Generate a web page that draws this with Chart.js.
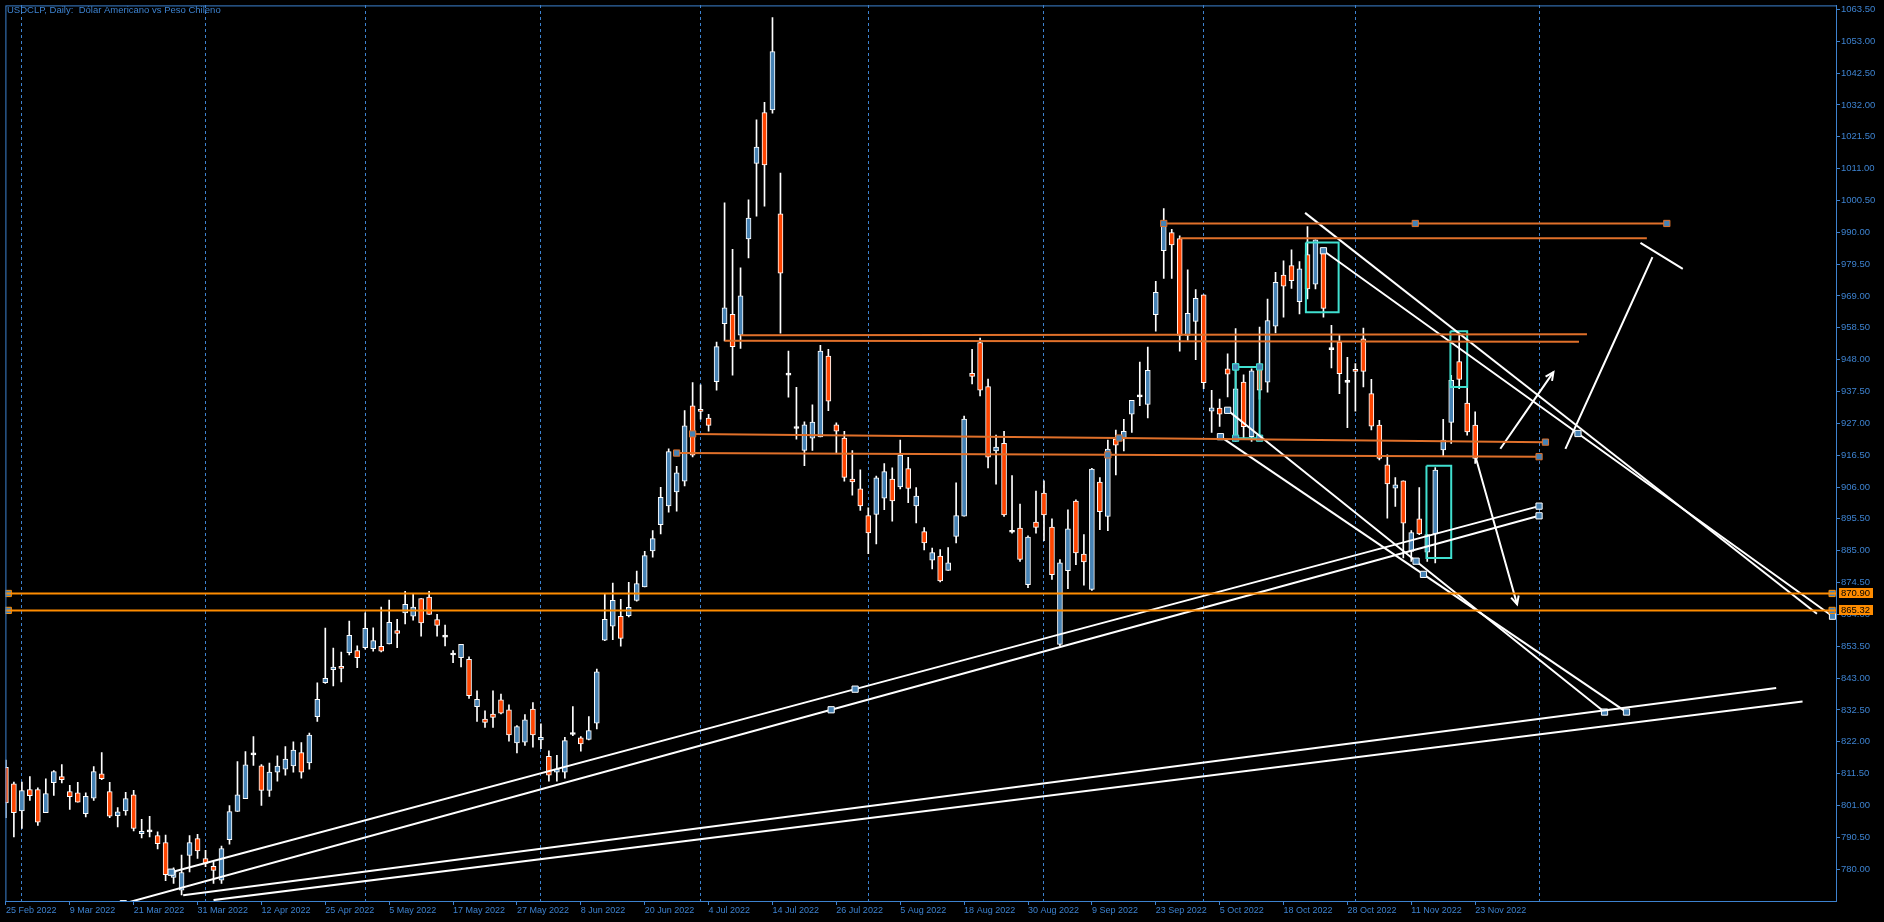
<!DOCTYPE html>
<html>
<head>
<meta charset="utf-8">
<script src="https://cdn.jsdelivr.net/npm/chart.js@4.4.1/dist/chart.umd.min.js"></script>
<style>
  html, body { margin: 0; padding: 0; background: #000; }
  canvas { display: block; }
</style>
</head>
<body>
<canvas id="chart" width="1884" height="922"></canvas>
<script>
// USDCLP daily candles (bar index = trading day from 25 Feb 2022)
const open = [813.6,808.1,799.2,806.2,806.2,798.6,808.5,810.5,805.6,805.2,798.3,803.4,811.4,805.6,797.6,799.2,804.5,791.7,792.3,791.1,
  788.8,777.3,773.1,784.5,790.1,783.5,780.9,776.4,789.7,799.0,803.2,817.7,814.1,806.0,812.0,813.0,814.0,818.4,815.0,830.3,
  841.5,845.8,846.9,851.4,852.1,853.0,852.7,853.5,854.3,858.7,864.5,863.4,869.2,869.7,862.3,856.5,850.6,849.7,849.2,833.6,
  829.5,831.1,835.8,832.5,821.6,821.9,832.8,822.6,817.2,812.0,812.0,824.4,823.3,822.8,828.1,855.5,860.1,863.4,863.6,868.6,
  873.1,884.9,893.6,899.8,904.4,907.9,932.8,931.6,928.7,940.7,959.9,962.9,956.1,987.8,1012.7,1029.5,1030.3,996.1,942.9,925.3,
  918.1,922.1,922.5,949.2,926.5,922.1,908.6,905.4,896.6,897.0,902.3,908.6,906.0,912.1,899.8,891.3,881.9,883.2,878.5,889.7,
  896.4,943.5,953.6,939.1,917.9,920.4,891.1,892.5,873.8,894.4,904.0,892.8,854.1,878.4,901.4,883.9,872.2,907.6,896.3,921.8,
  922.0,930.0,935.7,933.2,962.8,983.9,989.9,987.9,956.0,960.6,969.4,931.0,932.0,945.0,922.6,940.6,922.6,945.6,940.6,959.0,
  975.9,979.0,967.1,982.6,972.9,983.3,951.3,953.8,940.5,944.8,954.9,936.8,926.4,913.3,905.6,908.0,884.8,895.5,884.5,890.5,
  918.2,927.3,947.4,933.7,926.4];
const high = [816.0,808.7,808.7,810.5,806.8,809.8,812.5,814.5,807.6,808.6,805.2,813.8,818.4,808.6,800.3,805.3,806.0,796.4,797.4,792.3,
  791.2,780.4,784.6,791.1,791.5,786.2,782.4,787.6,801.0,815.5,818.8,823.7,814.5,815.0,817.4,820.4,822.0,821.7,824.9,841.4,
  859.5,852.9,851.6,861.8,853.6,864.5,859.6,866.4,868.7,862.4,871.6,870.8,869.2,871.6,864.0,860.5,852.1,854.1,850.0,838.8,
  832.2,838.8,837.7,834.2,827.3,831.0,834.9,827.9,819.0,817.5,823.5,833.6,823.7,830.3,846.0,870.6,874.3,869.0,874.6,878.3,
  884.8,891.6,905.9,918.6,912.8,931.2,940.4,939.7,930.0,953.8,999.7,984.4,978.3,1000.7,1027.1,1032.8,1060.8,1009.5,950.8,938.9,
  927.5,933.1,952.7,951.4,927.2,924.4,918.0,911.7,899.1,909.6,913.7,912.3,921.5,915.8,905.8,892.6,885.9,885.4,886.0,907.4,
  929.4,951.4,955.1,941.6,923.1,924.4,909.8,900.4,889.9,904.7,908.0,895.5,882.1,898.5,901.8,890.3,912.2,909.1,921.5,924.8,
  928.3,934.6,947.2,952.1,973.8,997.8,991.0,988.8,977.6,971.1,969.4,937.9,935.0,949.9,958.2,943.0,945.0,958.7,968.0,976.8,
  980.6,984.2,980.3,991.9,987.5,984.6,959.3,956.2,948.8,946.7,958.4,941.5,928.0,916.6,909.1,908.0,891.6,905.8,890.3,912.4,
  928.3,942.8,956.5,938.7,930.8];
const low = [797.0,790.6,793.4,802.7,794.4,798.6,804.3,808.4,799.7,802.1,797.2,802.7,809.5,797.0,793.9,797.8,792.6,790.3,790.6,786.7,
  776.2,775.3,771.5,779.1,783.5,780.8,775.3,775.3,788.2,799.0,803.2,814.2,801.0,804.0,809.0,811.0,812.0,810.0,813.0,828.7,
  841.2,840.4,841.7,850.6,846.4,852.5,851.9,851.6,854.3,853.0,860.9,862.1,856.8,864.0,856.8,853.6,848.1,846.7,836.3,828.7,
  826.7,826.7,831.2,822.2,818.3,820.8,820.2,819.7,809.0,809.0,810.0,824.0,818.9,822.6,826.2,855.3,855.7,853.5,863.2,868.4,
  873.1,882.9,890.5,897.7,898.0,906.4,915.9,928.4,924.4,937.9,954.2,942.9,951.7,981.5,995.3,998.6,1029.3,956.7,935.6,921.8,
  913.0,918.1,922.5,931.2,917.1,907.9,903.3,898.3,884.0,887.2,898.5,894.7,905.4,900.8,894.2,885.3,879.0,874.7,878.5,887.6,
  896.4,940.0,936.0,912.3,906.9,896.3,890.8,881.5,872.8,890.8,888.3,875.5,853.6,872.5,880.4,873.6,871.9,891.9,891.6,910.0,
  917.9,924.0,932.8,928.8,957.4,974.8,974.8,950.8,954.3,948.0,938.4,924.0,926.0,935.7,921.0,922.0,921.0,935.0,937.3,956.8,
  962.0,971.5,963.1,968.0,971.3,962.0,945.3,936.8,925.6,931.0,939.0,924.8,914.9,895.7,899.6,882.6,881.5,890.3,881.5,881.0,
  916.3,920.4,938.4,923.1,913.8];
const close = [801.8,798.6,805.9,804.2,795.5,804.9,812.2,809.5,803.9,802.1,804.0,812.2,809.8,797.5,798.9,803.3,793.4,792.5,792.3,788.4,
  778.2,779.1,778.9,788.8,786.0,781.9,779.6,786.8,799.0,804.5,814.4,817.7,806.0,812.0,814.0,816.3,819.3,812.0,824.2,836.0,
  842.9,846.6,846.2,857.1,849.7,859.4,855.4,851.9,861.4,857.7,867.3,866.4,861.2,864.0,860.4,856.5,850.6,854.1,837.2,836.0,
  828.4,830.0,831.4,824.3,827.0,829.2,824.3,823.5,811.0,813.0,822.4,824.4,821.3,825.7,845.1,862.4,868.6,856.1,866.3,874.2,
  883.4,889.0,902.6,917.7,910.7,926.2,916.5,930.9,926.3,952.3,965.1,952.3,969.0,994.7,1018.1,1012.2,1049.6,976.5,942.9,925.3,
  926.5,927.4,950.8,934.3,924.4,909.2,907.7,899.8,890.9,909.0,911.1,901.4,916.5,905.5,903.0,887.6,884.4,875.0,881.0,896.6,
  928.4,942.5,937.9,915.8,919.2,896.8,891.1,882.1,889.5,892.7,896.8,877.1,881.0,892.2,884.3,881.3,911.9,897.9,918.5,919.8,
  924.4,934.6,935.7,944.5,970.2,992.1,985.8,956.0,963.3,968.2,940.4,932.1,930.0,943.2,938.4,925.9,944.3,937.9,960.9,973.5,
  972.2,974.0,977.9,971.3,987.5,964.9,951.3,943.4,940.5,944.1,944.1,926.1,915.4,907.0,906.7,894.1,891.0,890.5,890.3,911.6,
  921.5,941.2,941.5,924.2,915.4];

// time axis labels (bar index -> date) and month starts
const labelIdx = [0,8,16,24,32,40,48,56,64,72,80,88,96,104,112,120,128,136,144,152,160,168,176,184];
const dateLabels = ['25 Feb 2022','9 Mar 2022','21 Mar 2022','31 Mar 2022','12 Apr 2022','25 Apr 2022','5 May 2022',
  '17 May 2022','27 May 2022','8 Jun 2022','20 Jun 2022','4 Jul 2022','14 Jul 2022','26 Jul 2022','5 Aug 2022',
  '18 Aug 2022','30 Aug 2022','9 Sep 2022','23 Sep 2022','5 Oct 2022','18 Oct 2022','28 Oct 2022','11 Nov 2022','23 Nov 2022'];
const monthIdx = [2,25,45,67,87,108,130,150,169,192];

// price axis
const yTicks = [780.0,790.5,801.0,811.5,822.0,832.5,843.0,853.5,864.0,874.5,885.0,895.5,906.0,916.5,927.0,937.5,
  948.0,958.5,969.0,979.5,990.0,1000.5,1011.0,1021.5,1032.0,1042.5,1053.0,1063.5];
const priceMin = 769.5, priceMax = 1064.8;
const barMin = -0.0625, barMax = 229.1875;

// drawn objects: [bar0, price0, bar1, price1, handles]
const levelLines = [[-1, 870.90, 231, 870.90], [-1, 865.32, 231, 865.32]];
const levelHandles = [[0.3, 870.90], [228.7, 870.90], [0.3, 865.32], [228.7, 865.32]];
const priceTags = [870.90, 865.32];
const zoneLines = [
  [145.0, 992.9, 208.0, 992.9, true],
  [147.0, 988.0, 205.5, 988.0, false],
  [92.0, 956.0, 198.0, 956.4, false],
  [90.0, 954.2, 197.0, 953.9, false],
  [86.0, 923.5, 192.8, 920.8, true],
  [84.0, 917.2, 192.0, 916.0, true]
];
const trendLines = [
  [20.7, 779.0, 192.0, 899.7, true],
  [14.7, 768.6, 192.0, 896.5, true],
  [22.2, 771.4, 221.7, 839.7, false],
  [26.0, 769.8, 225.0, 835.3, false],
  [162.7, 996.4, 226.8, 864.2, false],
  [165.0, 983.9, 228.75, 863.4, true],
  [153.0, 931.3, 200.2, 831.8, true],
  [152.1, 922.6, 202.95, 831.8, true],
  [195.3, 918.6, 206.2, 981.8, false],
  [204.7, 986.5, 210.0, 977.9, false]
];
const arrows = [
  [187.15, 918.6, 193.8, 943.9],
  [184.1, 915.5, 189.25, 867.3]
];
const boxes = [
  [162.8, 986.6, 166.9, 963.6, false],
  [154.0, 945.6, 157.0, 922.1, true],
  [180.9, 957.4, 183.0, 939.0, false],
  [177.9, 913.0, 181.0, 882.6, false]
];

const AXIS_BLUE = '#3d82cf';
const BULL = '#4682b4';
const BEAR = '#ff4500';
const FONT = '"Liberation Sans", Arial, sans-serif';

const bars = open.map((o, i) => i);
const bodyColors = bars.map(i => close[i] > open[i] ? BULL : (close[i] < open[i] ? BEAR : '#ffffff'));

function segment(a, color, width, withHandles) {
  const pts = [{x: a[0], y: a[1]}, {x: (a[0] + a[2]) / 2, y: (a[1] + a[3]) / 2}, {x: a[2], y: a[3]}];
  return {
    type: 'line',
    data: pts,
    borderColor: color,
    borderWidth: width,
    tension: 0,
    pointStyle: 'rect',
    pointRadius: withHandles ? 4.4 : 0,
    pointBackgroundColor: BULL,
    pointBorderColor: color,
    pointBorderWidth: 1,
    order: 0
  };
}

function box(b, color) {
  const pts = [{x: b[0], y: b[1]}, {x: b[2], y: b[1]}, {x: b[2], y: b[3]}, {x: b[0], y: b[3]}, {x: b[0], y: b[1]}];
  return {
    type: 'line',
    data: pts,
    borderColor: color,
    borderWidth: 2,
    tension: 0,
    pointStyle: 'rect',
    pointRadius: b[4] ? 4.4 : 0,
    pointBackgroundColor: BULL,
    pointBorderColor: color,
    pointBorderWidth: 1,
    order: 0
  };
}

const datasets = [];

// candle wicks and bodies
datasets.push({
  type: 'bar',
  data: bars.map(i => ({x: i, y: [low[i], high[i]]})),
  backgroundColor: '#ffffff',
  barThickness: 1,
  grouped: false,
  order: 3
});
datasets.push({
  type: 'bar',
  data: bars.map(i => ({x: i, y: [open[i], close[i]]})),
  backgroundColor: bodyColors,
  borderColor: '#ffffff',
  borderWidth: 1,
  borderSkipped: false,
  barThickness: 5,
  minBarLength: 2,
  grouped: false,
  order: 2
});

levelLines.forEach(l => datasets.push(segment(l, '#ff8c00', 2, false)));
datasets.push({
  type: 'scatter',
  data: levelHandles.map(h => ({x: h[0], y: h[1]})),
  pointStyle: 'rect',
  pointRadius: 4.4,
  pointBackgroundColor: BULL,
  pointBorderColor: '#ff8c00',
  pointBorderWidth: 1,
  order: 0
});
zoneLines.forEach(l => datasets.push(segment(l, '#e0702a', 2, l[4])));
trendLines.forEach(l => datasets.push(segment(l, '#ffffff', 2, l[4])));
arrows.forEach(l => datasets.push(segment(l, '#ffffff', 2, false)));
boxes.forEach(b => datasets.push(box(b, '#40e0d0')));

const overlay = {
  id: 'overlay',
  afterDatasetsDraw(chart) {
    const {ctx, scales: {x, y}, chartArea} = chart;
    ctx.save();
    ctx.beginPath();
    ctx.rect(chartArea.left, chartArea.top, chartArea.right - chartArea.left, chartArea.bottom - chartArea.top);
    ctx.clip();
    ctx.strokeStyle = '#ffffff';
    ctx.lineWidth = 2;
    arrows.forEach(a => {
      const x0 = x.getPixelForValue(a[0]), y0 = y.getPixelForValue(a[1]);
      const x1 = x.getPixelForValue(a[2]), y1 = y.getPixelForValue(a[3]);
      const ang = Math.atan2(y1 - y0, x1 - x0);
      ctx.beginPath();
      ctx.moveTo(x1 - 9 * Math.cos(ang - 0.45), y1 - 9 * Math.sin(ang - 0.45));
      ctx.lineTo(x1, y1);
      ctx.lineTo(x1 - 9 * Math.cos(ang + 0.45), y1 - 9 * Math.sin(ang + 0.45));
      ctx.stroke();
    });
    ctx.restore();
  },
  afterDraw(chart) {
    const {ctx, scales: {y}, chartArea} = chart;
    ctx.save();
    // frame
    ctx.strokeStyle = AXIS_BLUE;
    ctx.lineWidth = 1;
    ctx.strokeRect(chartArea.left + 0.5, chartArea.top + 0.5, chartArea.right - chartArea.left, chartArea.bottom - chartArea.top);
    // price tags on the axis
    ctx.font = '9.5px ' + FONT;
    ctx.textBaseline = 'middle';
    ctx.textAlign = 'left';
    priceTags.forEach(v => {
      const py = Math.round(y.getPixelForValue(v));
      ctx.fillStyle = '#ff8c00';
      ctx.fillRect(chartArea.right + 3, py - 5, 34, 10);
      ctx.fillStyle = '#000000';
      ctx.fillText(v.toFixed(2), chartArea.right + 5, py + 0.5);
    });
    // title
    ctx.fillStyle = AXIS_BLUE;
    ctx.font = '9.5px ' + FONT;
    ctx.fillText('USDCLP, Daily:  Dólar Americano vs Peso Chileno', 7, 10);
    ctx.restore();
  }
};

new Chart(document.getElementById('chart'), {
  type: 'bar',
  data: {datasets},
  options: {
    responsive: false,
    animation: false,
    devicePixelRatio: 1,
    layout: {padding: {left: 2, top: 2, right: 0, bottom: 0}},
    plugins: {legend: {display: false}, tooltip: {enabled: false}},
    scales: {
      x: {
        type: 'linear',
        position: 'bottom',
        offset: false,
        min: barMin,
        max: barMax,
        afterBuildTicks: s => { s.ticks = labelIdx.map(v => ({value: v})); },
        afterFit: s => { s.height = 21; s.paddingLeft = 0; s.paddingRight = 0; },
        ticks: {
          autoSkip: false,
          maxRotation: 0,
          minRotation: 0,
          align: 'start',
          padding: 0,
          color: AXIS_BLUE,
          font: {family: FONT, size: 9},
          callback: (v, i) => dateLabels[i]
        },
        grid: {offset: false, drawOnChartArea: false, drawTicks: true, tickLength: 4, tickColor: AXIS_BLUE, color: AXIS_BLUE},
        border: {display: true, color: AXIS_BLUE}
      },
      months: {
        type: 'linear',
        position: 'top',
        offset: false,
        min: barMin,
        max: barMax,
        afterBuildTicks: s => { s.ticks = monthIdx.map(v => ({value: v})); },
        afterFit: s => { s.height = 0; s.paddingLeft = 0; s.paddingRight = 0; },
        ticks: {display: false},
        grid: {offset: false, color: AXIS_BLUE, lineWidth: 1, drawTicks: false},
        border: {display: false, dash: [3, 3]}
      },
      y: {
        type: 'linear',
        position: 'right',
        min: priceMin,
        max: priceMax,
        afterBuildTicks: s => { s.ticks = yTicks.map(v => ({value: v})); },
        afterFit: s => { s.width = 48; s.paddingTop = 0; s.paddingBottom = 0; },
        ticks: {
          padding: 1,
          color: AXIS_BLUE,
          font: {family: FONT, size: 9.5},
          callback: v => v.toFixed(2)
        },
        grid: {drawOnChartArea: false, drawTicks: true, tickLength: 4, tickColor: AXIS_BLUE, color: AXIS_BLUE},
        border: {display: true, color: AXIS_BLUE}
      }
    }
  },
  plugins: [overlay]
});
</script>
</body>
</html>
